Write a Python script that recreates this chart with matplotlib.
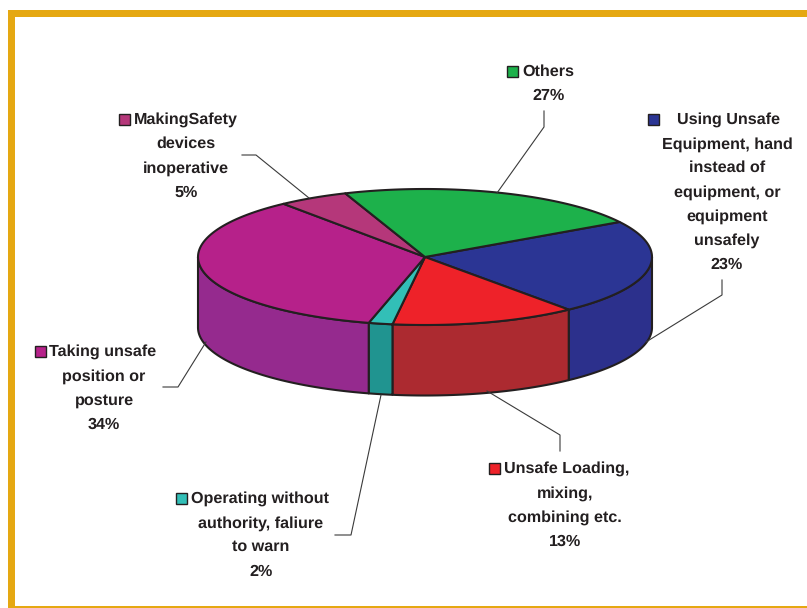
import numpy as np
import matplotlib
matplotlib.use("Agg")
import matplotlib.pyplot as plt
from matplotlib.patches import Polygon, Rectangle

# slices clockwise from the right back edge of the pie
categories = ["Using", "Loading", "Operating", "Taking", "Making", "Others"]
# shares as they are drawn in the picture (the printed labels add up to 104)
drawn_share = [22.7, 13.2, 1.7, 35.3, 5.0, 22.1]
label_pct = [23, 13, 2, 34, 5, 27]
first_lines = ["Using Unsafe", "Unsafe Loading,", "Operating without",
               "Taking unsafe", "MakingSafety", "Others"]
other_lines = [["Equipment, hand", "instead of", "equipment, or", "equipment", "unsafely"],
               ["mixing,", "combining etc."],
               ["authority, faliure", "to warn"],
               ["position or", "posture"],
               ["devices", "inoperative"],
               []]
top_colors = ["#2B3594", "#EE2229", "#32BFB7", "#B6218A", "#B5377A", "#1DB14B"]
side_colors = ["#2C308C", "#AC2A30", "#209490", "#952A8E", "#B5377A", "#1DB14B"]

# pixel positions for the label blocks: key left, key mid y, first text x, centre x of the other lines
key_x = [648, 489, 176, 35, 119, 507]
key_y = [119, 468, 498, 351, 119, 71]
first_x = [677, 504, 191, 49, 134, 522]
centre_x = [727, 565, 261, 104, 186, 549]
# leader lines
leaders = [[(722, 280), (722, 295), (646, 342)],
           [(560, 451), (560, 435), (487, 391)],
           [(335, 535), (351, 535), (381, 395)],
           [(163, 387), (178, 387), (206, 342)],
           [(242, 155), (256, 155), (309, 198)],
           [(544, 111), (544, 127), (497, 193)]]

cx, cy, rx, ry = 425, 257, 227, 68
depth = 70.5
start_angle = 31
edge = "#231F20"

plt.rcParams['font.family'] = ['Liberation Sans', 'DejaVu Sans']
plt.rcParams['text.hinting'] = 'none'
fig = plt.figure(figsize=(8.07, 6.08), dpi=100)
ax = fig.add_axes([0, 0, 1, 1])
ax.set_xlim(0, 807)
ax.set_ylim(608, 0)
ax.axis("off")


def arc(a1, a2, dy=0):
    t = np.radians(np.linspace(a1, a2, 80))
    return np.column_stack([cx + rx * np.cos(t), cy - ry * np.sin(t) + dy])


# orange frame: top and left thick, bottom thin
frame = "#E5A812"
ax.add_patch(Rectangle((8, 10), 799, 7, color=frame, lw=0))
ax.add_patch(Rectangle((8, 10), 7, 598, color=frame, lw=0))
ax.add_patch(Rectangle((8, 606), 799, 2, color=frame, lw=0))

bounds = start_angle - np.cumsum([0] + drawn_share) * 3.6

# side walls first (front half only)
for i in range(len(categories)):
    lo = max(bounds[i + 1], -180)
    hi = min(bounds[i], 0)
    if lo < hi:
        pts = np.vstack([arc(hi, lo), arc(lo, hi, depth)])
        ax.add_patch(Polygon(pts, closed=True, fc=side_colors[i], ec=edge, lw=1.5, joinstyle="round"))

# top faces
for i in range(len(categories)):
    pts = np.vstack([[(cx, cy)], arc(bounds[i], bounds[i + 1])])
    ax.add_patch(Polygon(pts, closed=True, fc=top_colors[i], ec=edge, lw=1.5, joinstyle="round"))

for pts in leaders:
    xs, ys = zip(*pts)
    ax.plot(xs, ys, color="#3A3A3A", lw=0.8, zorder=1)

tkw = dict(fontsize=11.6, fontweight="bold", color="#231F20", va="center")
for i in range(len(categories)):
    y = key_y[i]
    ax.add_patch(Rectangle((key_x[i], y - 5.5), 11, 11, fc=top_colors[i], ec=edge, lw=1.0))
    ax.text(first_x[i], y + 1, first_lines[i], ha="left", **tkw)
    y += 1
    for line in other_lines[i] + [f"{label_pct[i]}%"]:
        y += 24.1
        ax.text(centre_x[i], y, line, ha="center", **tkw)

fig.savefig("out.png", dpi=100)
